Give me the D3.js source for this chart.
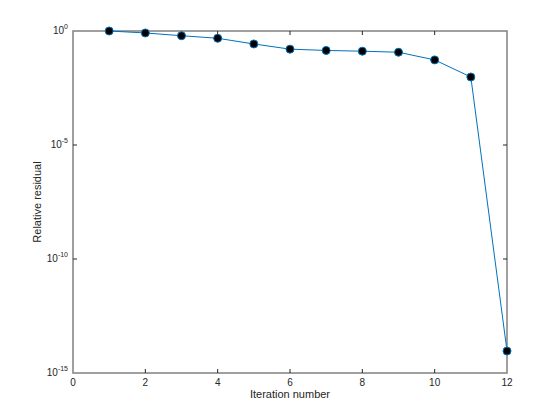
<!DOCTYPE html>
<html>
<head>
<meta charset="utf-8">
<script src="https://cdn.jsdelivr.net/npm/d3@7"></script>
<style>
  body { margin: 0; background: #fff; }
  text { font-family: "Liberation Sans", Helvetica, Arial, sans-serif; }
</style>
</head>
<body>
<div id="chart"></div>
<script>
// data
const iterations = [1, 2, 3, 4, 5, 6, 7, 8, 9, 10, 11, 12];
const residuals = [1, 0.82, 0.62, 0.48, 0.27, 0.16, 0.14, 0.13, 0.117, 0.054, 0.0096, 9.2e-15];
const xTicks = [0, 2, 4, 6, 8, 10, 12];
const yTickExps = [0, -5, -10, -15];

const width = 560, height = 420;
const margin = { left: 73, right: 53, top: 31, bottom: 47 };
const iw = width - margin.left - margin.right;
const ih = height - margin.top - margin.bottom;

const svg = d3.select("#chart").append("svg")
    .attr("width", width)
    .attr("height", height);

const x = d3.scaleLinear().domain([0, 12]).range([margin.left, margin.left + iw]);
const y = d3.scaleLog().domain([1e-15, 1]).range([margin.top + ih, margin.top]);

const axisColor = "#808080";
const tickLen = 4;

// box
svg.append("rect")
    .attr("x", margin.left).attr("y", margin.top)
    .attr("width", iw).attr("height", ih)
    .attr("fill", "none").attr("stroke", axisColor).attr("stroke-width", 1.5);

// ticks (inside, mirrored on top/right)
const g = svg.append("g").attr("stroke", "#262626").attr("stroke-width", 1);
xTicks.forEach(t => {
    if (t === 0 || t === 12) return;
    g.append("line").attr("x1", x(t)).attr("x2", x(t))
        .attr("y1", margin.top + ih).attr("y2", margin.top + ih - tickLen);
    g.append("line").attr("x1", x(t)).attr("x2", x(t))
        .attr("y1", margin.top).attr("y2", margin.top + tickLen);
});
yTickExps.forEach(e => {
    if (e === 0 || e === -15) return;
    const v = Math.pow(10, e);
    g.append("line").attr("x1", margin.left).attr("x2", margin.left + tickLen)
        .attr("y1", y(v)).attr("y2", y(v));
    g.append("line").attr("x1", margin.left + iw).attr("x2", margin.left + iw - tickLen)
        .attr("y1", y(v)).attr("y2", y(v));
});

// x tick labels
svg.append("g").selectAll("text")
    .data(xTicks).join("text")
    .attr("x", d => x(d))
    .attr("y", margin.top + ih + 13)
    .attr("text-anchor", "middle")
    .attr("font-size", 10)
    .attr("fill", "#262626")
    .text(d => d);

// y tick labels 10^e
const yl = svg.append("g").selectAll("text")
    .data(yTickExps).join("text")
    .attr("x", margin.left - 5)
    .attr("y", d => y(Math.pow(10, d)) + 3)
    .attr("text-anchor", "end")
    .attr("font-size", 10)
    .attr("fill", "#262626");
yl.append("tspan").text("10");
yl.append("tspan").attr("dy", -5).attr("font-size", 7).text(d => d);

// axis labels
svg.append("text")
    .attr("x", margin.left + iw / 2)
    .attr("y", margin.top + ih + 25)
    .attr("text-anchor", "middle")
    .attr("font-size", 11)
    .attr("fill", "#262626")
    .text("Iteration number");

svg.append("text")
    .attr("transform", `translate(41, ${margin.top + ih / 2}) rotate(-90)`)
    .attr("text-anchor", "middle")
    .attr("font-size", 11)
    .attr("fill", "#262626")
    .text("Relative residual");

// line
const pts = iterations.map((d, i) => [d, residuals[i]]);
svg.append("path")
    .datum(pts)
    .attr("fill", "none")
    .attr("stroke", "#0072BD")
    .attr("stroke-width", 1)
    .attr("d", d3.line().x(d => x(d[0])).y(d => y(d[1])));

// markers
svg.append("g").selectAll("circle")
    .data(pts).join("circle")
    .attr("cx", d => x(d[0]))
    .attr("cy", d => y(d[1]))
    .attr("r", 4)
    .attr("fill", "#000")
    .attr("stroke", "#0072BD")
    .attr("stroke-width", 1);
</script>
</body>
</html>
